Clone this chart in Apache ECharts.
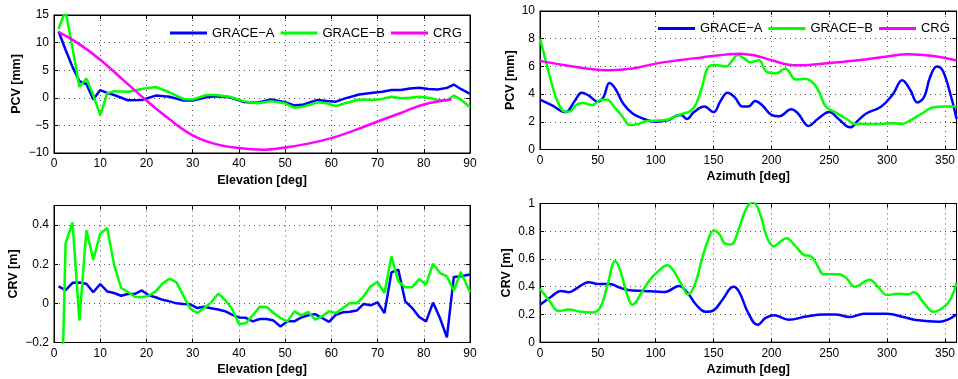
<!DOCTYPE html>
<html>
<head>
<meta charset="utf-8">
<script src="https://cdn.jsdelivr.net/npm/echarts@6/dist/echarts.min.js"></script>
<style>
html,body{margin:0;padding:0;background:#fff;}
#c{width:958px;height:379px;}
</style>
</head>
<body>
<div id="c"></div>
<script>
// ---------- DATA ----------
const names = ['GRACE\u2212A', 'GRACE\u2212B', 'CRG'];

// PCV vs elevation
const pcvElevX = [1,2.5,4,5.5,7,8.5,10,11.5,13,16,19,22,25,28,30,33,35,38,41,44,47,50,52,54,57,59,61,63,66,69,71,73,75,77,79,81,83,85,86.5,88,90];
const pcvElevA = [12,8.7,5.6,3,2.5,-0.3,1.4,0.9,0.5,-0.45,-0.4,0.4,0.2,-0.5,-0.5,0.1,0.3,0.1,-0.75,-0.9,-0.3,-0.8,-1.4,-1.2,-0.4,-0.6,-0.7,-0.1,0.6,0.9,1.1,1.4,1.4,1.7,1.8,1.6,1.5,1.8,2.4,1.6,0.7];
const pcvElevB = [12.5,15.8,9,2,3.5,0.5,-3.2,0.8,1.2,1.1,1.6,1.95,1.0,-0.2,-0.3,0.5,0.5,0.2,-0.6,-1.0,-0.6,-1.0,-1.8,-1.6,-0.8,-1.0,-1.5,-1.0,-0.3,-0.4,-0.2,0.2,-0.1,0.0,0.2,0.0,-0.4,-0.5,0.4,-0.3,-1.7];
const pcvElevCrgX = [1,5,10,15,20,25,30,35,40,45,50,55,60,65,70,75,80,86];
const pcvElevCrg = [11.9,10,6.9,3.2,-0.5,-3.9,-6.8,-8.4,-9.1,-9.4,-9.0,-8.3,-7.3,-5.9,-4.3,-2.75,-1.2,-0.3];

// PCV vs azimuth
const pcvAzAX = [0,10,22,30,36,42,50,55,60,65,72,80,90,100,110,118,122,127,133,142,150,156,162,168,175,180,186,192,200,207,217,223,232,240,250,258,268,275,282,295,305,313,320,326,332,337,343,348,355,360];
const pcvAzA = [3.6,3.2,2.7,3.5,4.1,3.9,3.45,3.8,4.8,4.4,3.3,2.6,2.2,2.0,2.1,2.45,2.5,2.2,2.7,3.1,2.7,3.5,4.1,3.8,3.1,3.1,3.5,3.2,2.5,2.4,2.9,2.6,1.7,2.2,2.7,2.2,1.6,2.1,2.6,3.1,4.0,5.0,4.3,3.4,3.8,5.2,6.0,5.7,3.9,2.2];
const pcvAzBX = [0,5,10,15,22,26,31,37,45,53,58,64,71,78,85,92,100,110,120,130,135,140,145,151,161,166,171,176,182,189,196,204,212,221,229,236,241,247,255,265,272,285,295,305,313,320,330,340,350,360];
const pcvAzB = [8.0,6.4,4.8,3.5,2.72,2.75,3.2,3.35,3.2,3.6,3.6,3.1,2.4,1.76,1.85,2.05,2.08,2.15,2.5,2.77,3.3,4.5,5.9,6.1,6.0,6.4,6.85,6.6,6.3,6.45,5.6,5.5,5.85,5.05,5.1,4.8,4.2,3.1,2.7,2.2,1.85,1.85,1.85,1.9,1.85,2.1,2.6,3.05,3.1,3.1];
const pcvAzCrgX = [0,20,40,60,80,100,120,140,160,172,185,200,215,225,250,275,300,318,340,360];
const pcvAzCrg = [6.4,6.1,5.85,5.72,5.85,6.2,6.45,6.65,6.85,6.92,6.8,6.45,6.12,6.08,6.25,6.45,6.72,6.88,6.75,6.42];

// CRV vs elevation
const crvElevX = [1,2.5,4,5.5,7,8.5,10,11.5,13,14.5,16,17.5,19,20.5,22,23.5,25,26.5,28,29.5,31,32.5,34,35.5,37,38.5,40,41.5,43,44.5,46,47.5,49,50.5,52,53.5,55,56.5,58,59.5,61,62.5,64,65.5,67,68.5,70,71.5,73,74.5,76,77.5,79,80.5,82,83.5,85,86.5,88,90];
const crvElevA = [0.087,0.067,0.105,0.107,0.1,0.057,0.099,0.061,0.053,0.039,0.048,0.049,0.066,0.041,0.031,0.018,0.01,0.0,-0.003,-0.005,-0.024,-0.017,-0.025,-0.031,-0.04,-0.058,-0.072,-0.074,-0.092,-0.08,-0.08,-0.088,-0.118,-0.092,-0.092,-0.072,-0.061,-0.055,-0.075,-0.095,-0.058,-0.046,-0.043,-0.037,-0.003,-0.01,0.005,-0.05,0.158,0.172,0.01,-0.024,-0.07,-0.092,0.004,-0.075,-0.174,0.135,0.138,0.147];
const crvElevB = [-1.2,0.305,0.414,-0.088,0.373,0.223,0.355,0.385,0.198,0.08,0.058,0.034,0.031,0.039,0.061,0.102,0.126,0.107,0.039,-0.027,-0.049,-0.024,0.005,0.049,0.019,-0.027,-0.106,-0.102,-0.061,-0.017,-0.019,-0.049,-0.075,-0.092,-0.041,-0.061,-0.044,-0.083,-0.066,-0.041,-0.049,-0.024,0.002,0.0,0.036,0.087,0.109,0.053,0.24,0.112,0.082,0.082,0.124,0.095,0.203,0.155,0.138,0.065,0.16,0.058];

// CRV vs azimuth
const crvAzAX = [0,10,18,25,32,42,50,60,70,80,90,100,108,120,128,135,143,150,158,167,172,180,188,195,202,215,230,245,255,268,280,300,315,325,345,360];
const crvAzA = [0.27,0.33,0.37,0.36,0.39,0.433,0.42,0.42,0.39,0.372,0.37,0.365,0.362,0.405,0.35,0.27,0.22,0.23,0.31,0.40,0.365,0.21,0.125,0.175,0.195,0.162,0.185,0.2,0.2,0.182,0.205,0.205,0.18,0.16,0.148,0.2];
const crvAzBX = [0,8,16,25,35,45,52,58,65,70,75,80,88,95,102,110,115,122,128,134,140,145,150,155,160,165,172,178,184,190,196,202,207,213,220,228,234,240,245,258,265,272,285,292,300,310,318,323,332,340,350,356,360];
const crvAzB = [0.385,0.3,0.225,0.235,0.22,0.215,0.25,0.4,0.585,0.5,0.35,0.27,0.36,0.45,0.51,0.555,0.52,0.42,0.345,0.42,0.6,0.73,0.805,0.78,0.71,0.705,0.82,0.96,1.01,0.93,0.76,0.69,0.72,0.75,0.7,0.63,0.62,0.55,0.49,0.49,0.46,0.4,0.45,0.4,0.34,0.35,0.345,0.36,0.28,0.22,0.26,0.33,0.43];

// axis ticks
const elevTicks = {min: 0, max: 90, interval: 10};
const azTicks = {min: 0, max: 360, interval: 50};
const pcvElevTicks = {min: -10, max: 15, interval: 5};
const pcvAzTicks = {min: 0, max: 10, interval: 2};
const crvElevTicks = {min: -0.2, max: 0.5, interval: 0.2};
const crvAzTicks = {min: 0, max: 1, interval: 0.2};

// ---------- CHART ----------
const FONT = '"Liberation Sans", Arial, Helvetica, sans-serif';
const colors = ['#0000ff', '#00ff00', '#ff00ff'];
const zip = (xs, ys) => xs.map((x, i) => [x, ys[i]]);
const fmt = v => String(+v.toFixed(4)).replace('-', '\u2212');

const grids = [
  {left: 54, top: 15, width: 416, height: 138},
  {left: 540, top: 11, width: 420, height: 138.5},
  {left: 54, top: 205.5, width: 416, height: 137},
  {left: 540, top: 203.5, width: 420, height: 138.7}
].map(g => Object.assign({show: true, borderColor: '#000', borderWidth: 1, containLabel: false}, g));

const splitStyle = {show: true, lineStyle: {type: [1, 4], color: '#555', width: 1}};
const tickStyle = {show: true, inside: true, length: 4, lineStyle: {color: '#000', width: 1}};
const lineAx = {show: true, onZero: false, lineStyle: {color: '#000', width: 1}};
const nameStyle = {fontFamily: FONT, fontSize: 12.5, fontWeight: 'bold', color: '#000'};
const labelStyle = {fontFamily: FONT, fontSize: 12, color: '#000'};

function xAx(g, t, name, hideMax) {
  return [
    Object.assign({type: 'value', gridIndex: g, position: 'bottom', name: name, nameLocation: 'middle', nameGap: 21,
      nameTextStyle: nameStyle, axisLine: lineAx, axisTick: tickStyle,
      axisLabel: Object.assign({margin: 5, formatter: fmt, showMaxLabel: !hideMax}, labelStyle),
      splitLine: splitStyle}, t),
    Object.assign({type: 'value', gridIndex: g, position: 'top', axisLine: lineAx, axisTick: tickStyle,
      axisLabel: {show: false}, splitLine: {show: false}}, t)
  ];
}
function yAx(g, t, name, gap, hideMax) {
  return [
    Object.assign({type: 'value', gridIndex: g, position: 'left', name: name, nameLocation: 'middle', nameGap: gap,
      nameTextStyle: nameStyle, axisLine: lineAx, axisTick: tickStyle,
      axisLabel: Object.assign({margin: 5, formatter: fmt, showMaxLabel: !hideMax}, labelStyle),
      splitLine: splitStyle}, t),
    Object.assign({type: 'value', gridIndex: g, position: 'right', axisLine: lineAx, axisTick: tickStyle,
      axisLabel: {show: false}, splitLine: {show: false}}, t)
  ];
}

const xAxis = [].concat(
  xAx(0, elevTicks, 'Elevation [deg]', false),
  xAx(1, azTicks, 'Azimuth [deg]', true),
  xAx(2, elevTicks, 'Elevation [deg]', false),
  xAx(3, azTicks, 'Azimuth [deg]', true)
);
const yAxis = [].concat(
  yAx(0, pcvElevTicks, 'PCV [mm]', 31, false),
  yAx(1, pcvAzTicks, 'PCV [mm]', 23, false),
  yAx(2, crvElevTicks, 'CRV [m]', 34, true),
  yAx(3, crvAzTicks, 'CRV [m]', 27, false)
);

function ser(name, g, data, smooth) {
  const c = colors[names.indexOf(name)];
  return {type: 'line', name: name, xAxisIndex: g * 2, yAxisIndex: g * 2, data: data,
    symbol: 'none', smooth: smooth, clip: true, animation: false,
    lineStyle: {color: c, width: 2.5}, itemStyle: {color: c}};
}

const series = [
  ser(names[0], 0, zip(pcvElevX, pcvElevA), false),
  ser(names[1], 0, zip(pcvElevX, pcvElevB), false),
  ser(names[2], 0, zip(pcvElevCrgX, pcvElevCrg), 0.4),
  ser(names[0], 1, zip(pcvAzAX, pcvAzA), 0.4),
  ser(names[1], 1, zip(pcvAzBX, pcvAzB), 0.4),
  ser(names[2], 1, zip(pcvAzCrgX, pcvAzCrg), 0.4),
  ser(names[0], 2, zip(crvElevX, crvElevA), false),
  ser(names[1], 2, zip(crvElevX, crvElevB), false),
  ser(names[0], 3, zip(crvAzAX, crvAzA), 0.4),
  ser(names[1], 3, zip(crvAzBX, crvAzB), 0.4)
];

const legendBase = {data: names.map(n => ({name: n, icon: 'rect'})), orient: 'horizontal',
  itemWidth: 37, itemHeight: 3, itemGap: 6,
  textStyle: {fontFamily: FONT, fontSize: 13, color: '#000'}, padding: 0, selectedMode: false,
  backgroundColor: 'transparent', borderWidth: 0};

const chart = echarts.init(document.getElementById('c'), null, {renderer: 'canvas'});
chart.setOption({
  backgroundColor: '#fff',
  animation: false,
  grid: grids,
  xAxis: xAxis,
  yAxis: yAxis,
  legend: [
    Object.assign({left: 170, top: 26.5}, legendBase),
    Object.assign({left: 658, top: 22}, legendBase)
  ],
  series: series
});
</script>
</body>
</html>
